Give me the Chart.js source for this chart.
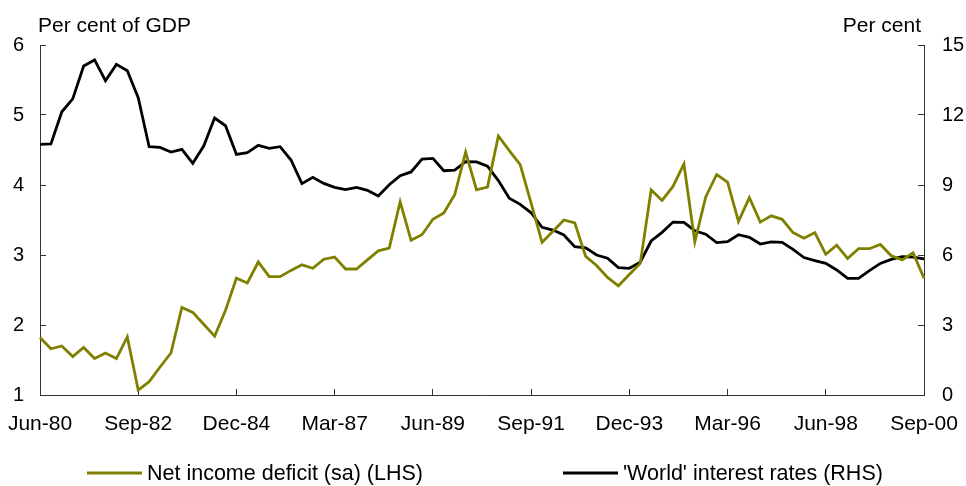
<!DOCTYPE html>
<html>
<head>
<meta charset="utf-8">
<script src="https://cdn.jsdelivr.net/npm/chart.js@4"></script>
<style>
  body { margin: 0; background: #fff; }
  #wrap { width: 966px; height: 486px; }
</style>
</head>
<body>
<div id="wrap"><canvas id="chart" width="966" height="486"></canvas></div>
<script>
// Data
const MONTHS = ['Mar', 'Jun', 'Sep', 'Dec'];
const quarters = [];
for (let q = 1; q < 83; q++) {
    const yr = 1980 + Math.floor(q / 4);
    quarters.push(MONTHS[q % 4] + '-' + String(yr).slice(2));
}

const tickLabels = ['Jun-80', 'Sep-82', 'Dec-84', 'Mar-87', 'Jun-89', 'Sep-91', 'Dec-93', 'Mar-96', 'Jun-98', 'Sep-00'];

// Net income deficit (sa), per cent of GDP (LHS)
const incomeDeficit = [
    1.82, 1.66, 1.70, 1.55, 1.68, 1.52, 1.60, 1.52, 1.83, 1.07,
    1.19, 1.40, 1.60, 2.25, 2.18, 2.01, 1.84, 2.21, 2.67, 2.60,
    2.90, 2.69, 2.69, 2.78, 2.86, 2.81, 2.94, 2.97, 2.80, 2.80,
    2.93, 3.06, 3.10, 3.76, 3.21, 3.29, 3.51, 3.60, 3.86, 4.47,
    3.93, 3.97, 4.70, 4.49, 4.29, 3.74, 3.18, 3.34, 3.50, 3.46,
    2.98, 2.85, 2.68, 2.56, 2.72, 2.88, 3.93, 3.78, 3.98, 4.30,
    3.19, 3.83, 4.15, 4.04, 3.48, 3.82, 3.47, 3.56, 3.51, 3.32,
    3.24, 3.32, 3.01, 3.14, 2.95, 3.09, 3.09, 3.15, 2.99, 2.93,
    3.03, 2.67
];

// 'World' interest rates, per cent (RHS)
const worldRates = [
    10.74, 10.76, 12.14, 12.69, 14.10, 14.36, 13.47, 14.17, 13.90, 12.74,
    10.64, 10.61, 10.41, 10.53, 9.93, 10.67, 11.87, 11.54, 10.31, 10.39,
    10.70, 10.57, 10.64, 10.07, 9.06, 9.33, 9.07, 8.90, 8.80, 8.90,
    8.77, 8.53, 9.01, 9.40, 9.56, 10.11, 10.14, 9.61, 9.64, 10.00,
    9.99, 9.81, 9.19, 8.43, 8.17, 7.81, 7.19, 7.07, 6.86, 6.36,
    6.31, 6.00, 5.86, 5.46, 5.43, 5.69, 6.60, 6.97, 7.41, 7.40,
    7.04, 6.89, 6.53, 6.57, 6.87, 6.76, 6.47, 6.56, 6.54, 6.24,
    5.89, 5.76, 5.64, 5.36, 5.00, 5.00, 5.33, 5.64, 5.81, 5.93,
    5.91, 5.83
];

const OLIVE = '#808000';
const AXIS = '#333333';
const FONT = '"Liberation Sans", Arial, sans-serif';

Chart.defaults.font.family = FONT;
Chart.defaults.font.size = 20;
Chart.defaults.color = '#000';

// Axis titles and the legend are drawn by hand
const extras = {
    id: 'extras',
    afterDraw(chart) {
        const ctx = chart.ctx;
        const area = chart.chartArea;
        ctx.save();
        ctx.font = '21px ' + FONT;
        ctx.fillStyle = '#000';
        ctx.textBaseline = 'alphabetic';
        ctx.textAlign = 'left';
        ctx.fillText('Per cent of GDP', area.left - 2, 32);
        ctx.textAlign = 'right';
        ctx.fillText('Per cent', area.right - 3, 32);

        // legend
        const slots = [87, 563];
        ctx.font = '21.5px ' + FONT;
        ctx.textAlign = 'left';
        ctx.textBaseline = 'middle';
        chart.data.datasets.forEach((ds, i) => {
            const x = slots[i];
            const y = 473;
            ctx.strokeStyle = ds.borderColor;
            ctx.lineWidth = 3;
            ctx.beginPath();
            ctx.moveTo(x, y);
            ctx.lineTo(x + 55, y);
            ctx.stroke();
            ctx.fillText(ds.label, x + 60, y + 1);
        });
        ctx.restore();
    }
};

new Chart(document.getElementById('chart'), {
    type: 'line',
    data: {
        labels: quarters,
        datasets: [
            {
                label: 'Net income deficit (sa) (LHS)',
                data: incomeDeficit,
                borderColor: OLIVE,
                backgroundColor: OLIVE,
                borderWidth: 2.8,
                pointRadius: 0,
                tension: 0,
                yAxisID: 'y'
            },
            {
                label: "'World' interest rates (RHS)",
                data: worldRates,
                borderColor: '#000',
                backgroundColor: '#000',
                borderWidth: 2.8,
                pointRadius: 0,
                tension: 0,
                yAxisID: 'y1'
            }
        ]
    },
    options: {
        responsive: false,
        animation: false,
        layout: { padding: { top: 45, bottom: 41, left: 0, right: 0 } },
        plugins: {
            legend: { display: false },
            tooltip: { enabled: false }
        },
        scales: {
            x: {
                offset: false,
                border: { display: true, color: AXIS, width: 1 },
                grid: {
                    drawOnChartArea: false,
                    tickLength: -6,
                    color: c => (c.index % 9 === 0 ? AXIS : 'rgba(0,0,0,0)')
                },
                ticks: {
                    autoSkip: false,
                    maxRotation: 0,
                    padding: 23,
                    font: { size: 21 },
                    callback: (v, i) => (i % 9 === 0 ? tickLabels[i / 9] : '')
                },
                afterFit: s => {
                    s.height = 50;
                    s.paddingLeft = 0;
                    s.paddingRight = 0;
                }
            },
            y: {
                position: 'left',
                min: 1,
                max: 6,
                border: { display: true, color: AXIS, width: 1 },
                grid: { drawOnChartArea: false, tickLength: -6, color: AXIS },
                ticks: { stepSize: 1, padding: 22 },
                afterFit: s => { s.width = 40; }
            },
            y1: {
                position: 'right',
                min: 0,
                max: 15,
                border: { display: true, color: AXIS, width: 1 },
                grid: { drawOnChartArea: false, tickLength: -6, color: AXIS },
                ticks: { stepSize: 3, padding: 24 },
                afterFit: s => { s.width = 42; }
            }
        }
    },
    plugins: [extras]
});
</script>
</body>
</html>
